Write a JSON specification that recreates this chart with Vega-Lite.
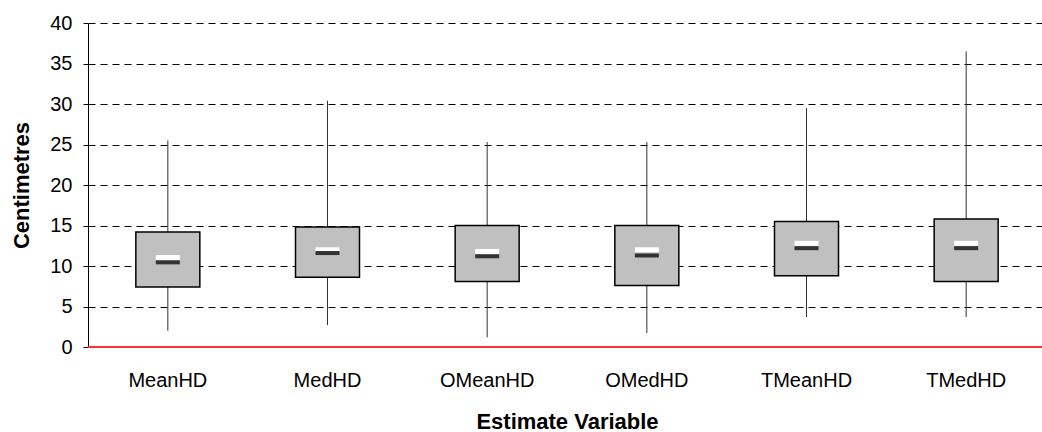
{
  "$schema": "https://vega.github.io/schema/vega-lite/v6.json",
  "width": 958,
  "height": 324,
  "autosize": {"type": "none"},
  "padding": {"left": 88, "top": 23, "right": 0, "bottom": 85},
  "background": "white",
  "config": {
    "view": {"stroke": null},
    "font": "Liberation Sans"
  },
  "data": {
    "values": [
      {"name": "MeanHD", "low": 2.0, "q1": 7.4, "q3": 14.2, "high": 25.5, "white": 11.05, "dark": 10.45},
      {"name": "MedHD", "low": 2.7, "q1": 8.6, "q3": 14.8, "high": 30.4, "white": 12.0, "dark": 11.6},
      {"name": "OMeanHD", "low": 1.2, "q1": 8.1, "q3": 15.0, "high": 25.3, "white": 11.8, "dark": 11.2},
      {"name": "OMedHD", "low": 1.7, "q1": 7.6, "q3": 15.0, "high": 25.3, "white": 12.0, "dark": 11.3},
      {"name": "TMeanHD", "low": 3.7, "q1": 8.8, "q3": 15.5, "high": 29.5, "white": 12.8, "dark": 12.2},
      {"name": "TMedHD", "low": 3.7, "q1": 8.1, "q3": 15.8, "high": 36.5, "white": 12.8, "dark": 12.2}
    ]
  },
  "encoding": {
    "x": {
      "field": "name",
      "type": "nominal",
      "sort": null,
      "scale": {"paddingInner": 0, "paddingOuter": 0},
      "axis": {
        "title": "Estimate Variable",
        "titleFont": "Liberation Sans",
        "titleFontSize": 22,
        "titleFontWeight": "bold",
        "titleColor": "black",
        "titlePadding": 21,
        "labelFont": "Liberation Sans",
        "labelFontSize": 20,
        "labelColor": "black",
        "labelAngle": 0,
        "labelPadding": 23,
        "ticks": false,
        "domain": false
      }
    }
  },
  "layer": [
    {
      "mark": {"type": "rule", "color": "#333333", "strokeWidth": 1},
      "encoding": {
        "y": {
          "field": "low",
          "type": "quantitative",
          "scale": {"domain": [0, 40], "nice": false},
          "axis": {
            "title": "Centimetres",
            "titleFont": "Liberation Sans",
            "titleFontSize": 22,
            "titleFontWeight": "bold",
            "titleColor": "black",
            "titlePadding": 16,
            "labelFont": "Liberation Sans",
            "labelFontSize": 20,
            "labelColor": "black",
            "labelPadding": 11,
            "values": [0, 5, 10, 15, 20, 25, 30, 35, 40],
            "tickSize": 5,
            "tickColor": "black",
            "domainColor": "black",
            "grid": true,
            "gridColor": "black",
            "gridDash": [7, 5],
            "gridWidth": 1
          }
        },
        "y2": {"field": "high"}
      }
    },
    {
      "mark": {"type": "bar", "size": 64, "color": "#c0c0c0", "stroke": "black", "strokeWidth": 1.5},
      "encoding": {
        "y": {"field": "q1", "type": "quantitative"},
        "y2": {"field": "q3"}
      }
    },
    {
      "mark": {"type": "tick", "color": "white", "size": 24, "thickness": 5, "opacity": 1},
      "encoding": {
        "y": {"field": "white", "type": "quantitative"}
      }
    },
    {
      "mark": {"type": "tick", "color": "#333333", "size": 24, "thickness": 4, "opacity": 1},
      "encoding": {
        "y": {"field": "dark", "type": "quantitative"}
      }
    },
    {
      "mark": {"type": "rule", "color": "#ff3333", "strokeWidth": 1.5},
      "encoding": {
        "x": {"value": 0},
        "x2": {"value": 958},
        "y": {"datum": 0}
      }
    }
  ]
}
